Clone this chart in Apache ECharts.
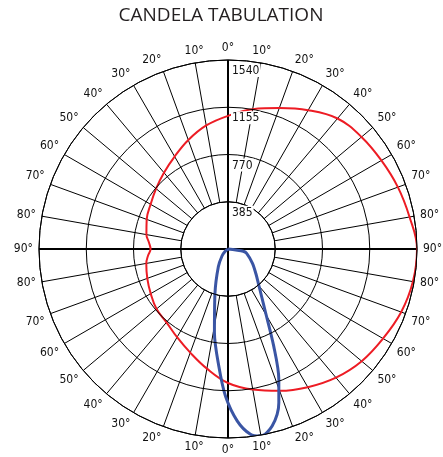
<!DOCTYPE html>
<html>
<head>
<meta charset="utf-8">
<script src="https://cdn.jsdelivr.net/npm/echarts@6/dist/echarts.min.js"></script>
<style>
html,body{margin:0;padding:0;background:#fff;}
#c{width:443px;height:457px;}
</style>
</head>
<body>
<div id="c"></div>
<script>
// Data (angle clockwise from top, candela)
const redAngles = [0,10,20,30,40,50,60,70,80,90,100,110,120,130,140,150,160,170,180,190,200,210,220,230,240,250,260,265,270,275,280,290,300,310,320,330,340,350,360];
const redValues = [1085,1157,1222,1306,1388,1420,1443,1473,1502,1540,1530,1502,1459,1422,1368,1300,1230,1163,1092,990,899,830,780,760,727,700,676,655,631,648,675,705,728,765,812,870,945,1022,1085];

const blueAngles = [0,97,98.5,103,120.3,131.8,138.5,144.8,148.8,154.8,158.7,161.7,166,170.2,173.1,176.9,181,184.5,189.2,196.4,208.7,220.6,230,0];
const blueValues = [0,65,126,156,231,306,373,476,581,875,1140,1319,1487,1547,1521,1404,1198,957,691,376,164,75,32,0];

const ringTicks = [385,770,1155,1540];
const angleLabelTicks = [0,10,20,30,40,50,60,70,80,90];

const CX = 228, CY = 249, R = 189;
const narrow = "'Liberation Sans Narrow','DejaVu Sans Condensed',sans-serif";

function angleLabel(v){
  let a = v <= 90 ? v : v <= 180 ? 180 - v : v <= 270 ? v - 180 : 360 - v;
  return angleLabelTicks.indexOf(a) >= 0 ? a + '°' : '';
}
function ringLabel(v){
  if (ringTicks.indexOf(v) < 0) return '';
  return '{g|}{v|' + v + '}';
}

const chart = echarts.init(document.getElementById('c'), null, {renderer:'canvas'});
chart.setOption({
  animation:false,
  backgroundColor:'#fff',
  title:{
    text:'CANDELA TABULATION',
    left:216, top:1, textAlign:'center',
    textStyle:{fontFamily:"'Open Sans',sans-serif", fontWeight:'normal', fontSize:19, color:'#231f20'}
  },
  polar:[
    {center:[CX,CY], radius:[R*385/1540, R]},
    {center:[CX,CY], radius:R}
  ],
  angleAxis:[
    {polarIndex:0, type:'value', min:0, max:360, interval:10, startAngle:90, clockwise:true,
     axisLine:{show:true, lineStyle:{color:'#000', width:1}},
     axisTick:{show:false},
     splitLine:{show:true, lineStyle:{color:'#000', width:1}},
     axisLabel:{formatter:angleLabel, margin:6, fontFamily:narrow, fontSize:12, color:'#111'}
    },
    {polarIndex:1, type:'value', min:0, max:360, startAngle:90, clockwise:true, show:false}
  ],
  radiusAxis:[
    {polarIndex:0, type:'value', min:385, max:1540, interval:385, z:10,
     axisLine:{show:false}, axisTick:{show:false},
     splitLine:{show:true, lineStyle:{color:'#000', width:1}},
     axisLabel:{show:true, formatter:ringLabel, margin:4, align:'left', verticalAlign:'top', padding:[4,0,0,0],
       rich:{
         g:{width:7},
         v:{fontFamily:narrow, fontSize:12, color:'#111', backgroundColor:'#fff', padding:[1,1,0,1]}
       }}
    },
    {polarIndex:1, type:'value', min:0, max:1540, show:false}
  ],
  series:[
    {type:'line', coordinateSystem:'polar', polarIndex:1, symbol:'none', z:1, silent:true,
     lineStyle:{color:'#000', width:2}, data:[[1540,0],[1540,180]]},
    {type:'line', coordinateSystem:'polar', polarIndex:1, symbol:'none', z:1, silent:true,
     lineStyle:{color:'#000', width:2}, data:[[1540,90],[1540,270]]},
    {type:'line', coordinateSystem:'polar', polarIndex:1, symbol:'none', smooth:0.4, z:3,
     lineStyle:{color:'#ed1c24', width:2}, data:redAngles.map((a,i)=>[redValues[i], a])},
    {type:'line', coordinateSystem:'polar', polarIndex:1, symbol:'none', smooth:0.3, z:4,
     lineStyle:{color:'#3a55a4', width:3}, data:blueAngles.map((a,i)=>[blueValues[i], a])}
  ]
});
</script>
</body>
</html>
